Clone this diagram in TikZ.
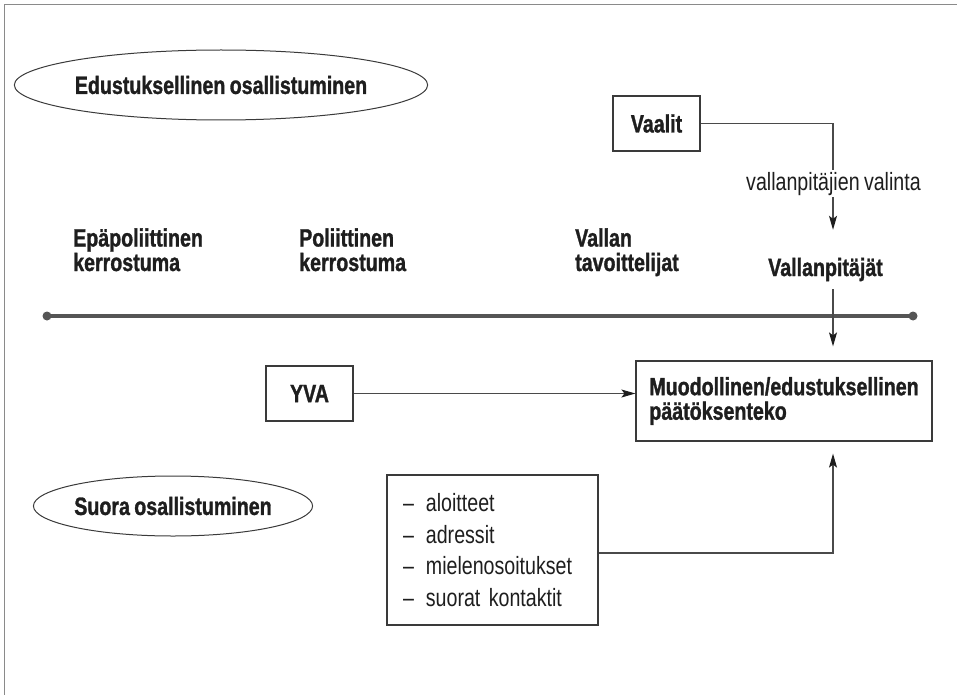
\documentclass[tikz,border=0pt]{standalone}
\usepackage{fontspec}
\setmainfont{Liberation Sans}[FakeStretch=0.785, WordSpace=0.8, BoldFeatures={FakeBold=1.2}]
\usetikzlibrary{arrows.meta,shapes.geometric,calc}
\definecolor{ink}{HTML}{1E1E1E}
\definecolor{boxc}{HTML}{3A3A3A}
\definecolor{linec}{HTML}{4A4A4A}
\definecolor{axisc}{HTML}{555555}
\definecolor{framec}{HTML}{8A8A8A}

\begin{document}
\begin{tikzpicture}[x=1pt,y=-1pt,
  boldtxt/.style={font=\fontsize{25pt}{24.5pt}\selectfont\bfseries, text=ink},
  regtxt/.style={font=\fontsize{25pt}{31.7pt}\selectfont, text=ink},
  lbl/.style={boldtxt, align=left, inner sep=0pt},
  box/.style={draw=boxc, line width=1.2pt, rectangle},
  oval/.style={ellipse, draw=boxc, line width=1pt, inner sep=0pt, boldtxt},
  conn/.style={draw=linec, line width=1.1pt, -{Stealth[length=14pt,width=8pt,inset=3pt,color=ink]}},
  axis/.style={draw=axisc, line width=3.2pt},
  frameline/.style={draw=framec, line width=1pt}
]
\useasboundingbox (0,0) rectangle (957,695);

% page frame (top and left edges)
\draw[frameline] (4.5,695) -- (4.5,4.5) -- (957,4.5);

% participation ovals
\node[oval, minimum width=352pt, minimum height=70pt] (edu) at (221,85) {Edustuksellinen osallistuminen};
\node[oval, minimum width=274pt, minimum height=60pt] (suora) at (173,506) {Suora osallistuminen};

% layer labels above the axis (anchored on the baseline of their last line)
\node[lbl, anchor=base west] (epa) at (73,271) {Epäpoliittinen\\kerrostuma};
\node[lbl, anchor=base west] (pol) at (299,271) {Poliittinen\\kerrostuma};
\node[lbl, anchor=base west] (tav) at (575,271) {Vallan\\tavoittelijat};
\node[boldtxt, anchor=base, inner sep=0pt, text height=19pt, text depth=5pt] (vp) at (825.5,276) {Vallanpitäjät};

% axis with end dots
\coordinate (axL) at (47,316);
\coordinate (axR) at (913,316);
\draw[axis] (axL) -- (axR);
\fill[axisc] (axL) circle (4.5pt);
\fill[axisc] (axR) circle (4.5pt);

% boxes
\node[box, boldtxt, minimum width=87pt, minimum height=55pt] (vaalit) at (656.5,123.5) {Vaalit};
\node[box, boldtxt, minimum width=87pt, minimum height=55pt] (yva) at (309.5,393.5) {YVA};
\node[box, boldtxt, align=left, minimum width=296pt, minimum height=80pt] (muod) at (784,401)
  {Muodollinen/edustuksellinen\\päätöksenteko};
\node[box, regtxt, align=left, text width=179pt, inner xsep=16pt, minimum height=150pt] (list) at (492.5,550)
  {–\hspace{12pt}aloitteet\\–\hspace{12pt}adressit\\–\hspace{12pt}mielenosoitukset\\–\hspace{12pt}suorat kontaktit};

% connectors
\draw[conn] (vaalit.east) -| ($(vp.north)+(7.5,-27)$);
\node[regtxt, fill=white, inner xsep=1pt, inner ysep=2pt, anchor=base] (vlab) at (833.5,190) {vallanpitäjien valinta};
\draw[conn] ($(vp.south)+(7.5,8)$) -- ($(muod.north)+(49,-14)$);
\draw[conn] (yva.east) -- (yva.east -| muod.west);
\draw[conn] ($(list.east)+(0,3)$) -| ($(muod.south)+(49,12)$);
\end{tikzpicture}
\end{document}
